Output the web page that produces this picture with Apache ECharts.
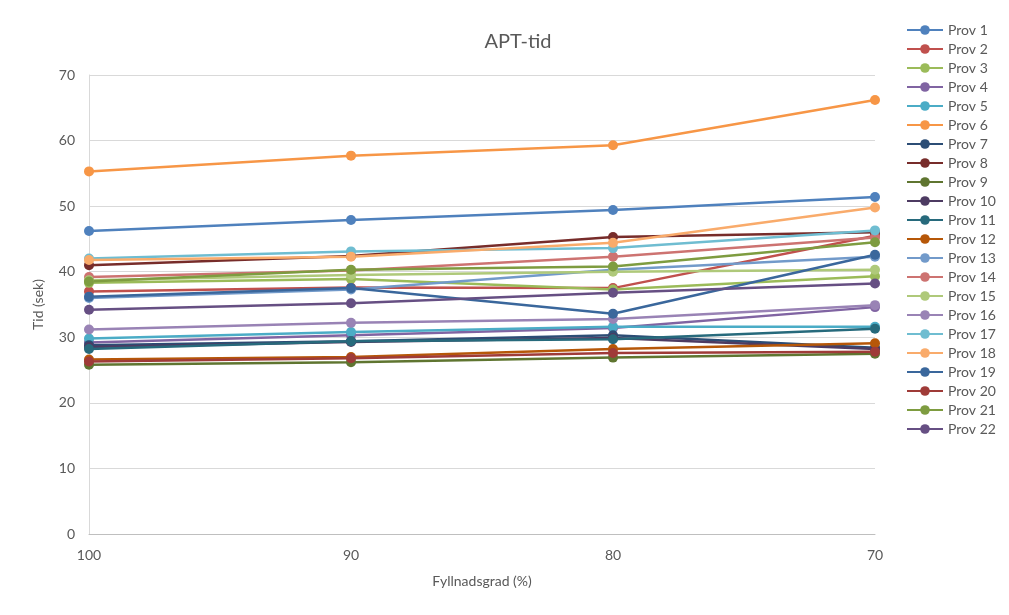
<!DOCTYPE html>
<html>
<head>
<meta charset="utf-8">
<script src="https://cdn.jsdelivr.net/npm/echarts@6/dist/echarts.min.js"></script>
<style>
html,body{margin:0;padding:0;background:#fff;}
#c{width:1009px;height:615px;}
</style>
</head>
<body>
<div id="c"></div>
<script>
const categories = ['100', '90', '80', '70'];
const seriesNames = ['Prov 1','Prov 2','Prov 3','Prov 4','Prov 5','Prov 6','Prov 7','Prov 8','Prov 9','Prov 10','Prov 11','Prov 12','Prov 13','Prov 14','Prov 15','Prov 16','Prov 17','Prov 18','Prov 19','Prov 20','Prov 21','Prov 22'];
const prov1  = [46.2, 47.9, 49.4, 51.4];
const prov2  = [37.0, 37.6, 37.5, 45.5];
const prov3  = [38.3, 38.9, 37.3, 39.3];
const prov4  = [29.2, 30.3, 31.4, 34.6];
const prov5  = [29.8, 30.8, 31.6, 31.6];
const prov6  = [55.3, 57.7, 59.3, 66.2];
const prov7  = [28.8, 29.4, 30.3, 28.4];
const prov8  = [41.0, 42.4, 45.3, 46.0];
const prov9  = [25.8, 26.2, 26.9, 27.5];
const prov10 = [28.5, 29.3, 29.9, 28.2];
const prov11 = [28.2, 29.4, 29.7, 31.3];
const prov12 = [26.6, 27.0, 28.2, 29.1];
const prov13 = [36.0, 37.3, 40.3, 42.3];
const prov14 = [39.2, 40.2, 42.3, 45.2];
const prov15 = [38.7, 39.5, 40.0, 40.3];
const prov16 = [31.2, 32.2, 32.8, 34.9];
const prov17 = [42.0, 43.1, 43.6, 46.3];
const prov18 = [41.8, 42.3, 44.4, 49.8];
const prov19 = [36.2, 37.5, 33.6, 42.6];
const prov20 = [26.3, 26.8, 27.6, 27.8];
const prov21 = [38.5, 40.3, 40.8, 44.5];
const prov22 = [34.2, 35.2, 36.8, 38.2];
const allData = [prov1,prov2,prov3,prov4,prov5,prov6,prov7,prov8,prov9,prov10,prov11,prov12,prov13,prov14,prov15,prov16,prov17,prov18,prov19,prov20,prov21,prov22];
const colors = ['#4F81BD','#C0504D','#9BBB59','#8064A2','#4BACC6','#F79646',
                '#2C4D75','#772C2A','#5F7530','#4D3B62','#276A7C','#B65708',
                '#729ACA','#CD7371','#AFC97A','#9983B5','#6FBDD1','#F9AB6B',
                '#3A679C','#9F3B38','#7E9C40','#664F83'];
const yTicks = {min: 0, max: 70, interval: 10};

const font = 'Lato, "Open Sans", sans-serif';
const chart = echarts.init(document.getElementById('c'), null, {renderer: 'canvas'});
chart.setOption({
  animation: false,
  color: colors,
  title: {
    text: 'APT-tid', left: 513, top: 27, textAlign: 'center',
    textStyle: {fontFamily: font, fontSize: 20, fontWeight: 'normal', color: '#595959'}
  },
  legend: {
    orient: 'vertical', left: 901, top: 18,
    itemWidth: 36, itemHeight: 12, itemGap: 5,
    textStyle: {fontFamily: font, fontSize: 14, color: '#595959'},
    data: seriesNames
  },
  grid: {left: 89, right: 134, top: 75, bottom: 81},
  xAxis: {
    type: 'category', data: categories, boundaryGap: false,
    name: 'Fyllnadsgrad (%)', nameLocation: 'middle', nameGap: 40,
    nameTextStyle: {fontFamily: font, fontSize: 14, color: '#595959'},
    axisLine: {lineStyle: {color: '#bfbfbf'}},
    axisTick: {show: false},
    axisLabel: {fontFamily: font, fontSize: 14, color: '#595959', margin: 14},
    splitLine: {show: false}
  },
  yAxis: {
    type: 'value', min: yTicks.min, max: yTicks.max, interval: yTicks.interval,
    name: 'Tid (sek)', nameLocation: 'middle', nameGap: 44, nameRotate: 90,
    nameTextStyle: {fontFamily: font, fontSize: 14, color: '#595959'},
    axisLine: {show: true, lineStyle: {color: '#d9d9d9'}},
    axisTick: {show: false},
    axisLabel: {fontFamily: font, fontSize: 14, color: '#595959', margin: 14},
    splitLine: {lineStyle: {color: '#d9d9d9'}}
  },
  series: seriesNames.map((n, i) => ({
    name: n, type: 'line', data: allData[i],
    symbol: 'circle', symbolSize: 10,
    lineStyle: {width: 2.5},
    itemStyle: {color: colors[i]}
  }))
});
</script>
</body>
</html>
